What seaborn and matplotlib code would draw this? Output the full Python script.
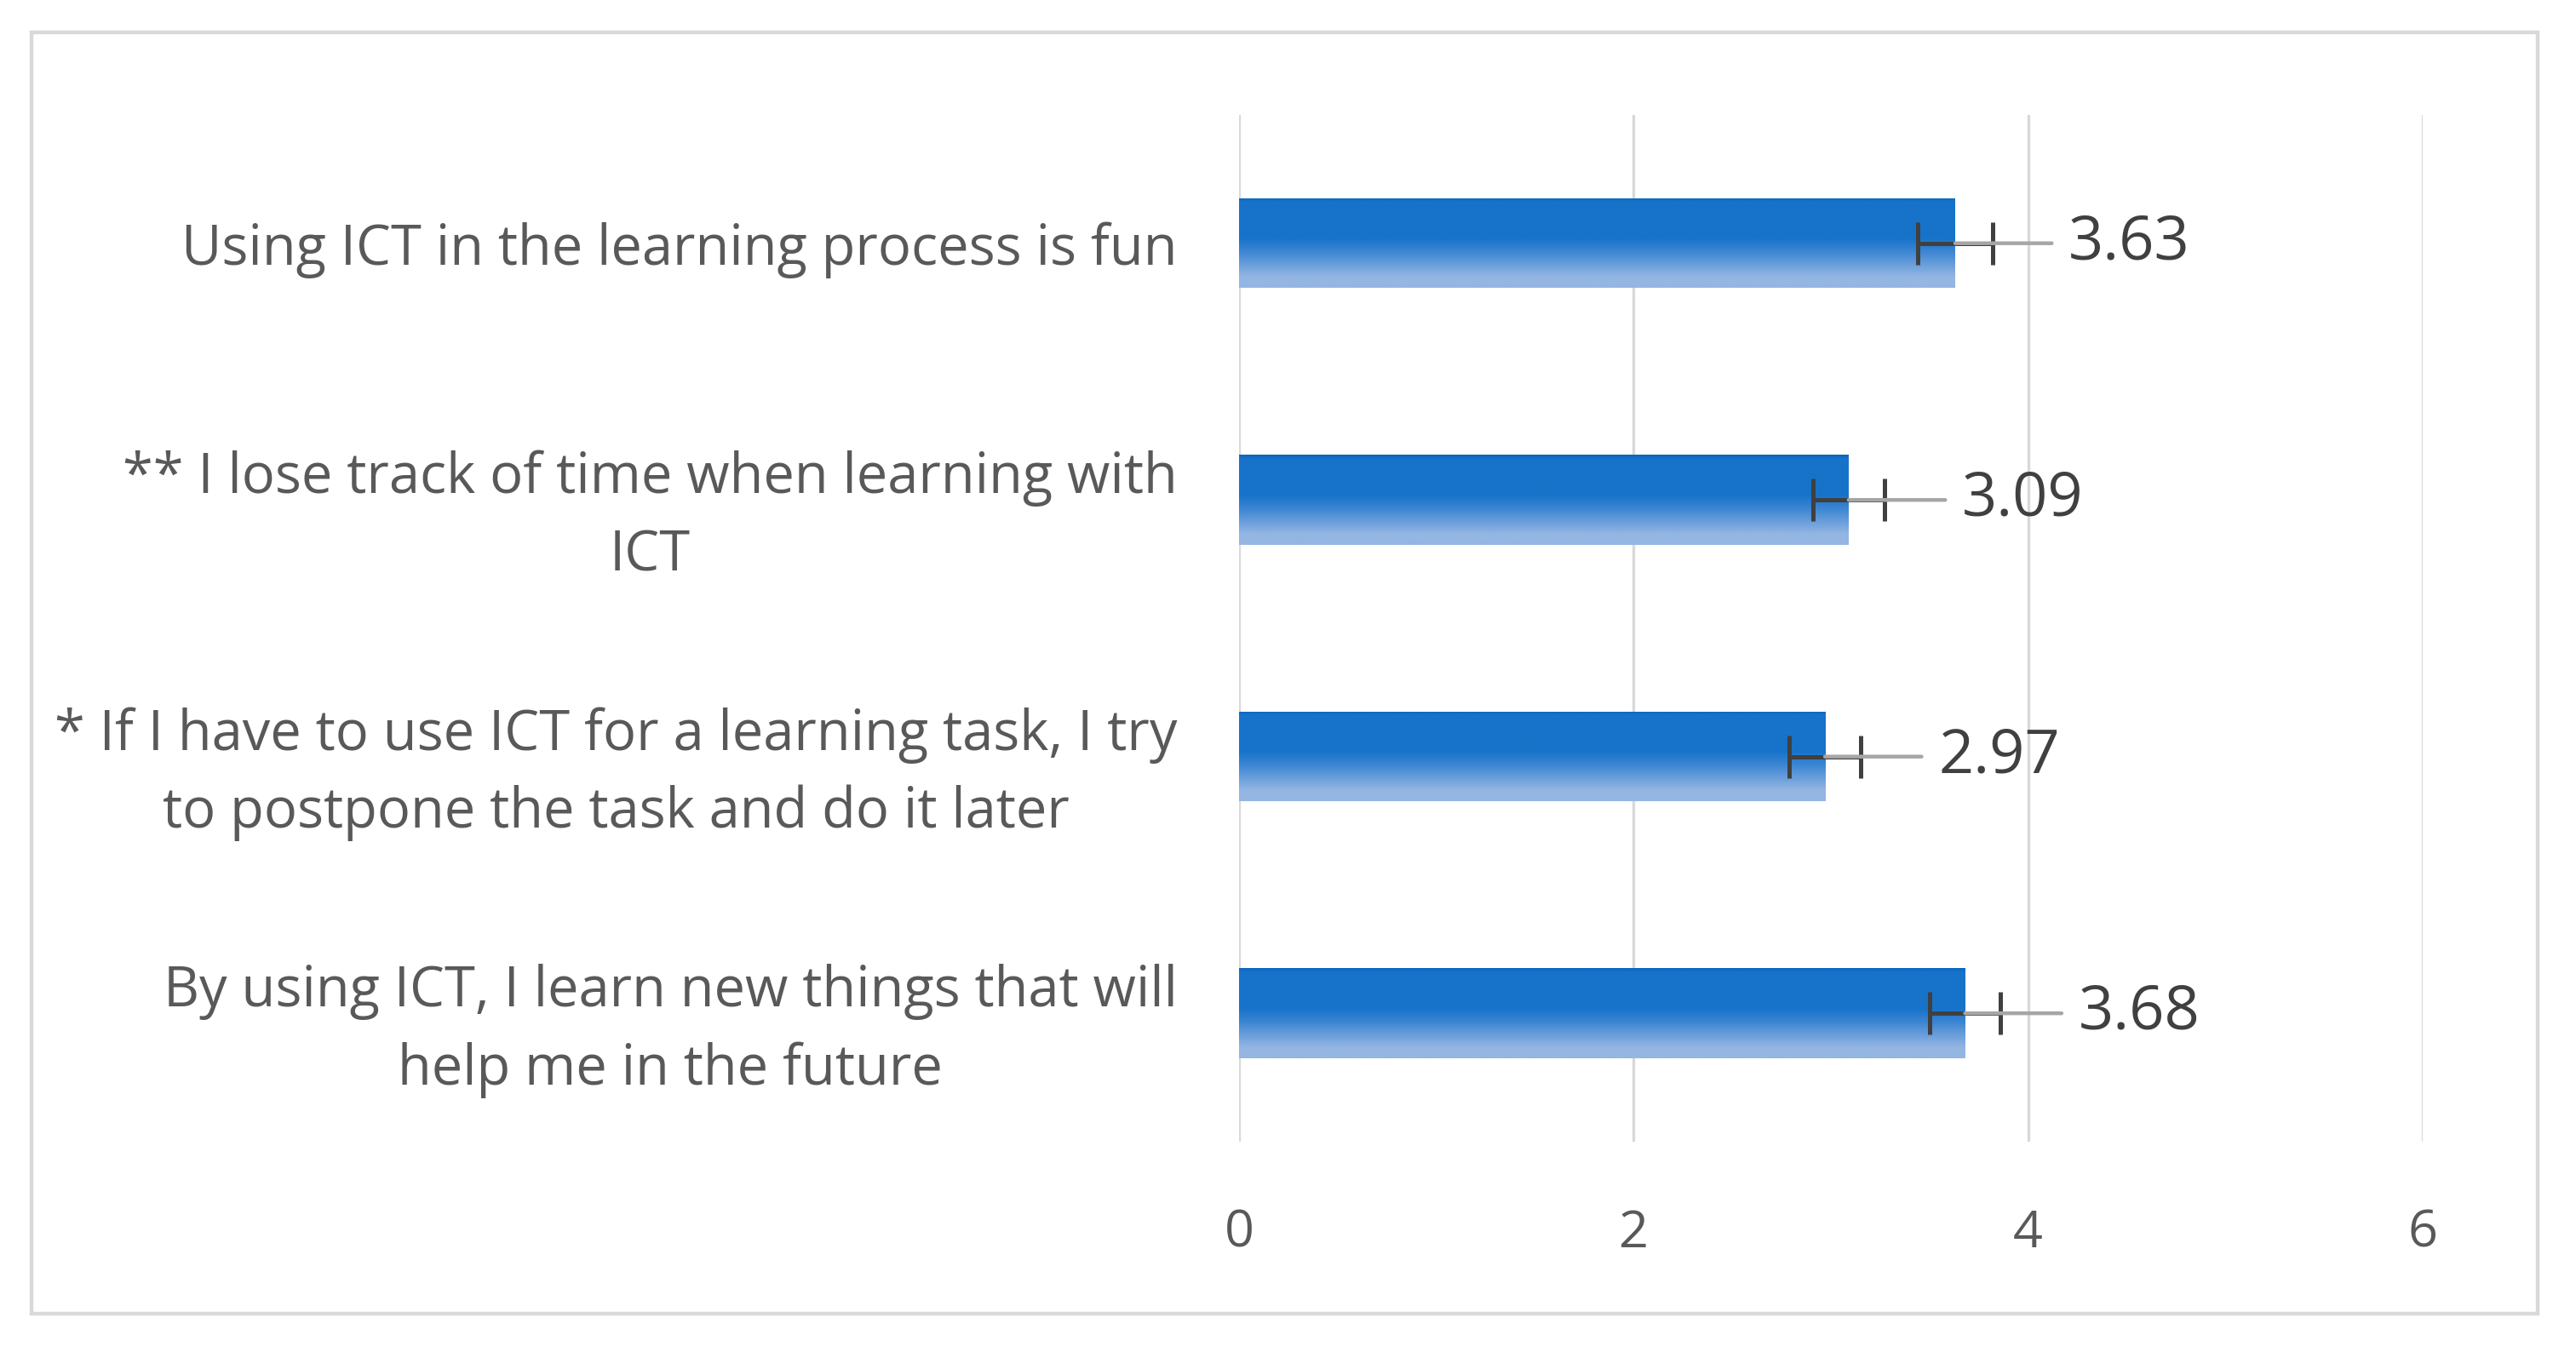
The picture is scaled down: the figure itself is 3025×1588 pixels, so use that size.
import numpy as np
import pandas as pd
import matplotlib
matplotlib.use("Agg")
import matplotlib.pyplot as plt
from matplotlib.patches import Rectangle
from matplotlib.colors import LinearSegmentedColormap
import seaborn as sns

## Data

items = [
    "Using ICT in the learning process is fun",
    "** I lose track of time when learning with\nICT",
    "* If I have to use ICT for a learning task, I try\nto postpone the task and do it later",
    "By using ICT, I learn new things that will\nhelp me in the future",
]
means = [3.63, 3.09, 2.97, 3.68]
errors = [0.19, 0.18, 0.18, 0.18]
value_labels = ["3.63", "3.09", "2.97", "3.68"]
x_ticks = [0, 2, 4, 6]

df = pd.DataFrame({"item": items, "mean": means})

## Style

sns.set_theme(style="white")
plt.rcParams["font.family"] = ["Open Sans", "DejaVu Sans"]

BAR_TOP = "#1773c9"
BAR_BOTTOM = "#94b6e3"
GRID = "#d9d9d9"
LABEL = "#595959"
VALUE = "#404040"

fig = plt.figure(figsize=(15.125, 7.94), dpi=200)
ax = fig.add_axes([0.481, 0.1556, 0.4595, 0.7594])

sns.barplot(
    data=df, y="item", x="mean", orient="h",
    color=BAR_TOP, width=0.35, errorbar=None, ax=ax, zorder=2,
)

# gradient fill on each bar (dark top, light bottom)
grad_cmap = LinearSegmentedColormap.from_list(
    "bar", [(0, "#0a62c0"), (0.04, BAR_TOP), (0.45, BAR_TOP), (0.6, "#3d86d3"),
            (0.88, BAR_BOTTOM), (1, BAR_BOTTOM)]
)
grad = np.linspace(0, 1, 256).reshape(-1, 1)
for patch in ax.patches:
    bb = patch.get_bbox()
    patch.set_edgecolor("none")
    im = ax.imshow(
        grad, cmap=grad_cmap, aspect="auto", origin="upper",
        extent=(bb.x0, bb.x1, bb.y1, bb.y0), zorder=2.5,
    )
    im.set_clip_path(patch)

# error bars
ax.errorbar(
    means, range(len(means)), xerr=errors, fmt="none",
    ecolor="#404040", elinewidth=1.8, capsize=9, capthick=1.8, zorder=3,
)

# value labels with leader lines
for i, (v, lab) in enumerate(zip(means, value_labels)):
    ax.annotate(
        lab, xy=(v, i), xytext=(48, 0), textcoords="offset points",
        ha="left", va="center", fontsize=26, color=VALUE,
        arrowprops=dict(arrowstyle="-", color="#a6a6a6", lw=1.6,
                        shrinkA=5, shrinkB=0, relpos=(0, 0.5)),
        zorder=4,
    )

ax.set_xlim(0, 6)
ax.set_ylim(3.5, -0.5)
ax.set_xticks(x_ticks)
ax.set_xticklabels([str(t) for t in x_ticks])
ax.grid(axis="x", color=GRID, linewidth=1.2, zorder=0)
ax.set_axisbelow(True)
for s in ax.spines.values():
    s.set_visible(False)
ax.set_xlabel("")
ax.set_ylabel("")
ax.tick_params(axis="x", length=0, pad=28, labelsize=22, labelcolor=LABEL)
ax.tick_params(axis="y", length=0, pad=26, labelsize=23.4, labelcolor=LABEL)
for t in ax.get_yticklabels():
    t.set_multialignment("center")
    t.set_linespacing(1.5)

# chart border
fig.patches.append(Rectangle(
    (0.0122, 0.0283), 0.9729, 0.9478, transform=fig.transFigure,
    fill=False, edgecolor=GRID, linewidth=1.6, zorder=0,
))

fig.savefig("out.png", dpi=200, facecolor="white")
